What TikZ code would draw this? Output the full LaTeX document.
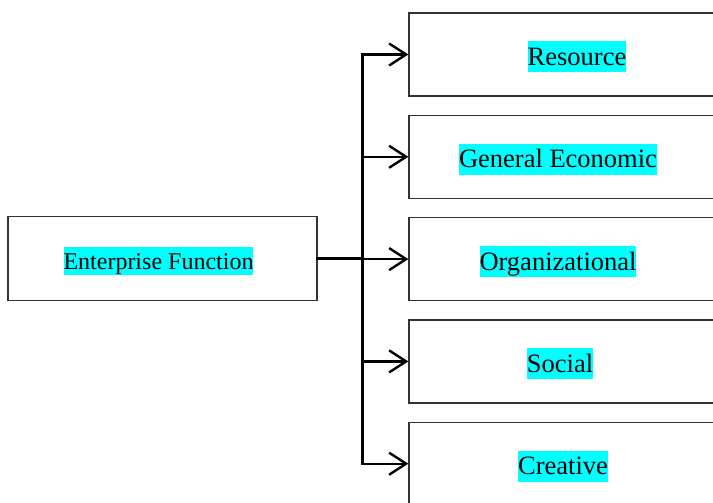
\documentclass[tikz,border=0pt]{standalone}
\usepackage{fontspec}
\setmainfont{Liberation Serif}
\usetikzlibrary{positioning, arrows.meta}
\definecolor{hlcyan}{RGB}{0,255,255}

\begin{document}
\begin{tikzpicture}[
        x=1pt, y=-1pt,
        node distance=18pt and 0pt,
        box/.style={draw=black!80, line width=1.3pt, inner sep=0pt, minimum width=320pt, minimum height=83pt},
        hl/.style={fill=hlcyan, inner sep=0pt, yshift=-2.5pt, text height=24pt, text depth=7pt, font=\fontsize{26.5}{30}\selectfont},
        link/.style={line width=2.4pt, line cap=rect},
        arr/.style={-{Straight Barb[length=17pt, width=22pt]}, line width=2.4pt}
    ]
    \useasboundingbox (0,0) rectangle (713,503);

    % source box on the left
    \node[box, minimum width=309pt, minimum height=84pt] (ent) at (162.5,258.5) {};
    \node[hl, font=\fontsize{24}{28}\selectfont, text height=22pt, text depth=6pt] (t0) at ([xshift=-4pt]ent.center) {Enterprise Function};

    % column of function types
    \node[box] (r1) at (569,54.5) {};
    \node[box, below=of r1] (r2) {};
    \node[box, below=of r2] (r3) {};
    \node[box, below=of r3] (r4) {};
    \node[box, below=of r4] (r5) {};

    \node[hl] (t1) at ([xshift=8pt]r1.center) {Resource};
    \node[hl] (t2) at ([xshift=-11pt]r2.center) {General Economic};
    \node[hl] (t3) at ([xshift=-11pt]r3.center) {Organizational};
    \node[hl] (t4) at ([xshift=-9pt]r4.center) {Social};
    \node[hl] (t5) at ([xshift=-6pt]r5.center) {Creative};

    \coordinate[right=45pt of ent.east] (fork);

    \draw[link] (ent.east) -- (fork);
    \draw[link] (fork |- r1.west) -- (fork |- r5.west);
    \foreach \i in {1,...,5}
        \draw[arr] (fork |- r\i.west) -- (r\i.west);
\end{tikzpicture}
\end{document}
